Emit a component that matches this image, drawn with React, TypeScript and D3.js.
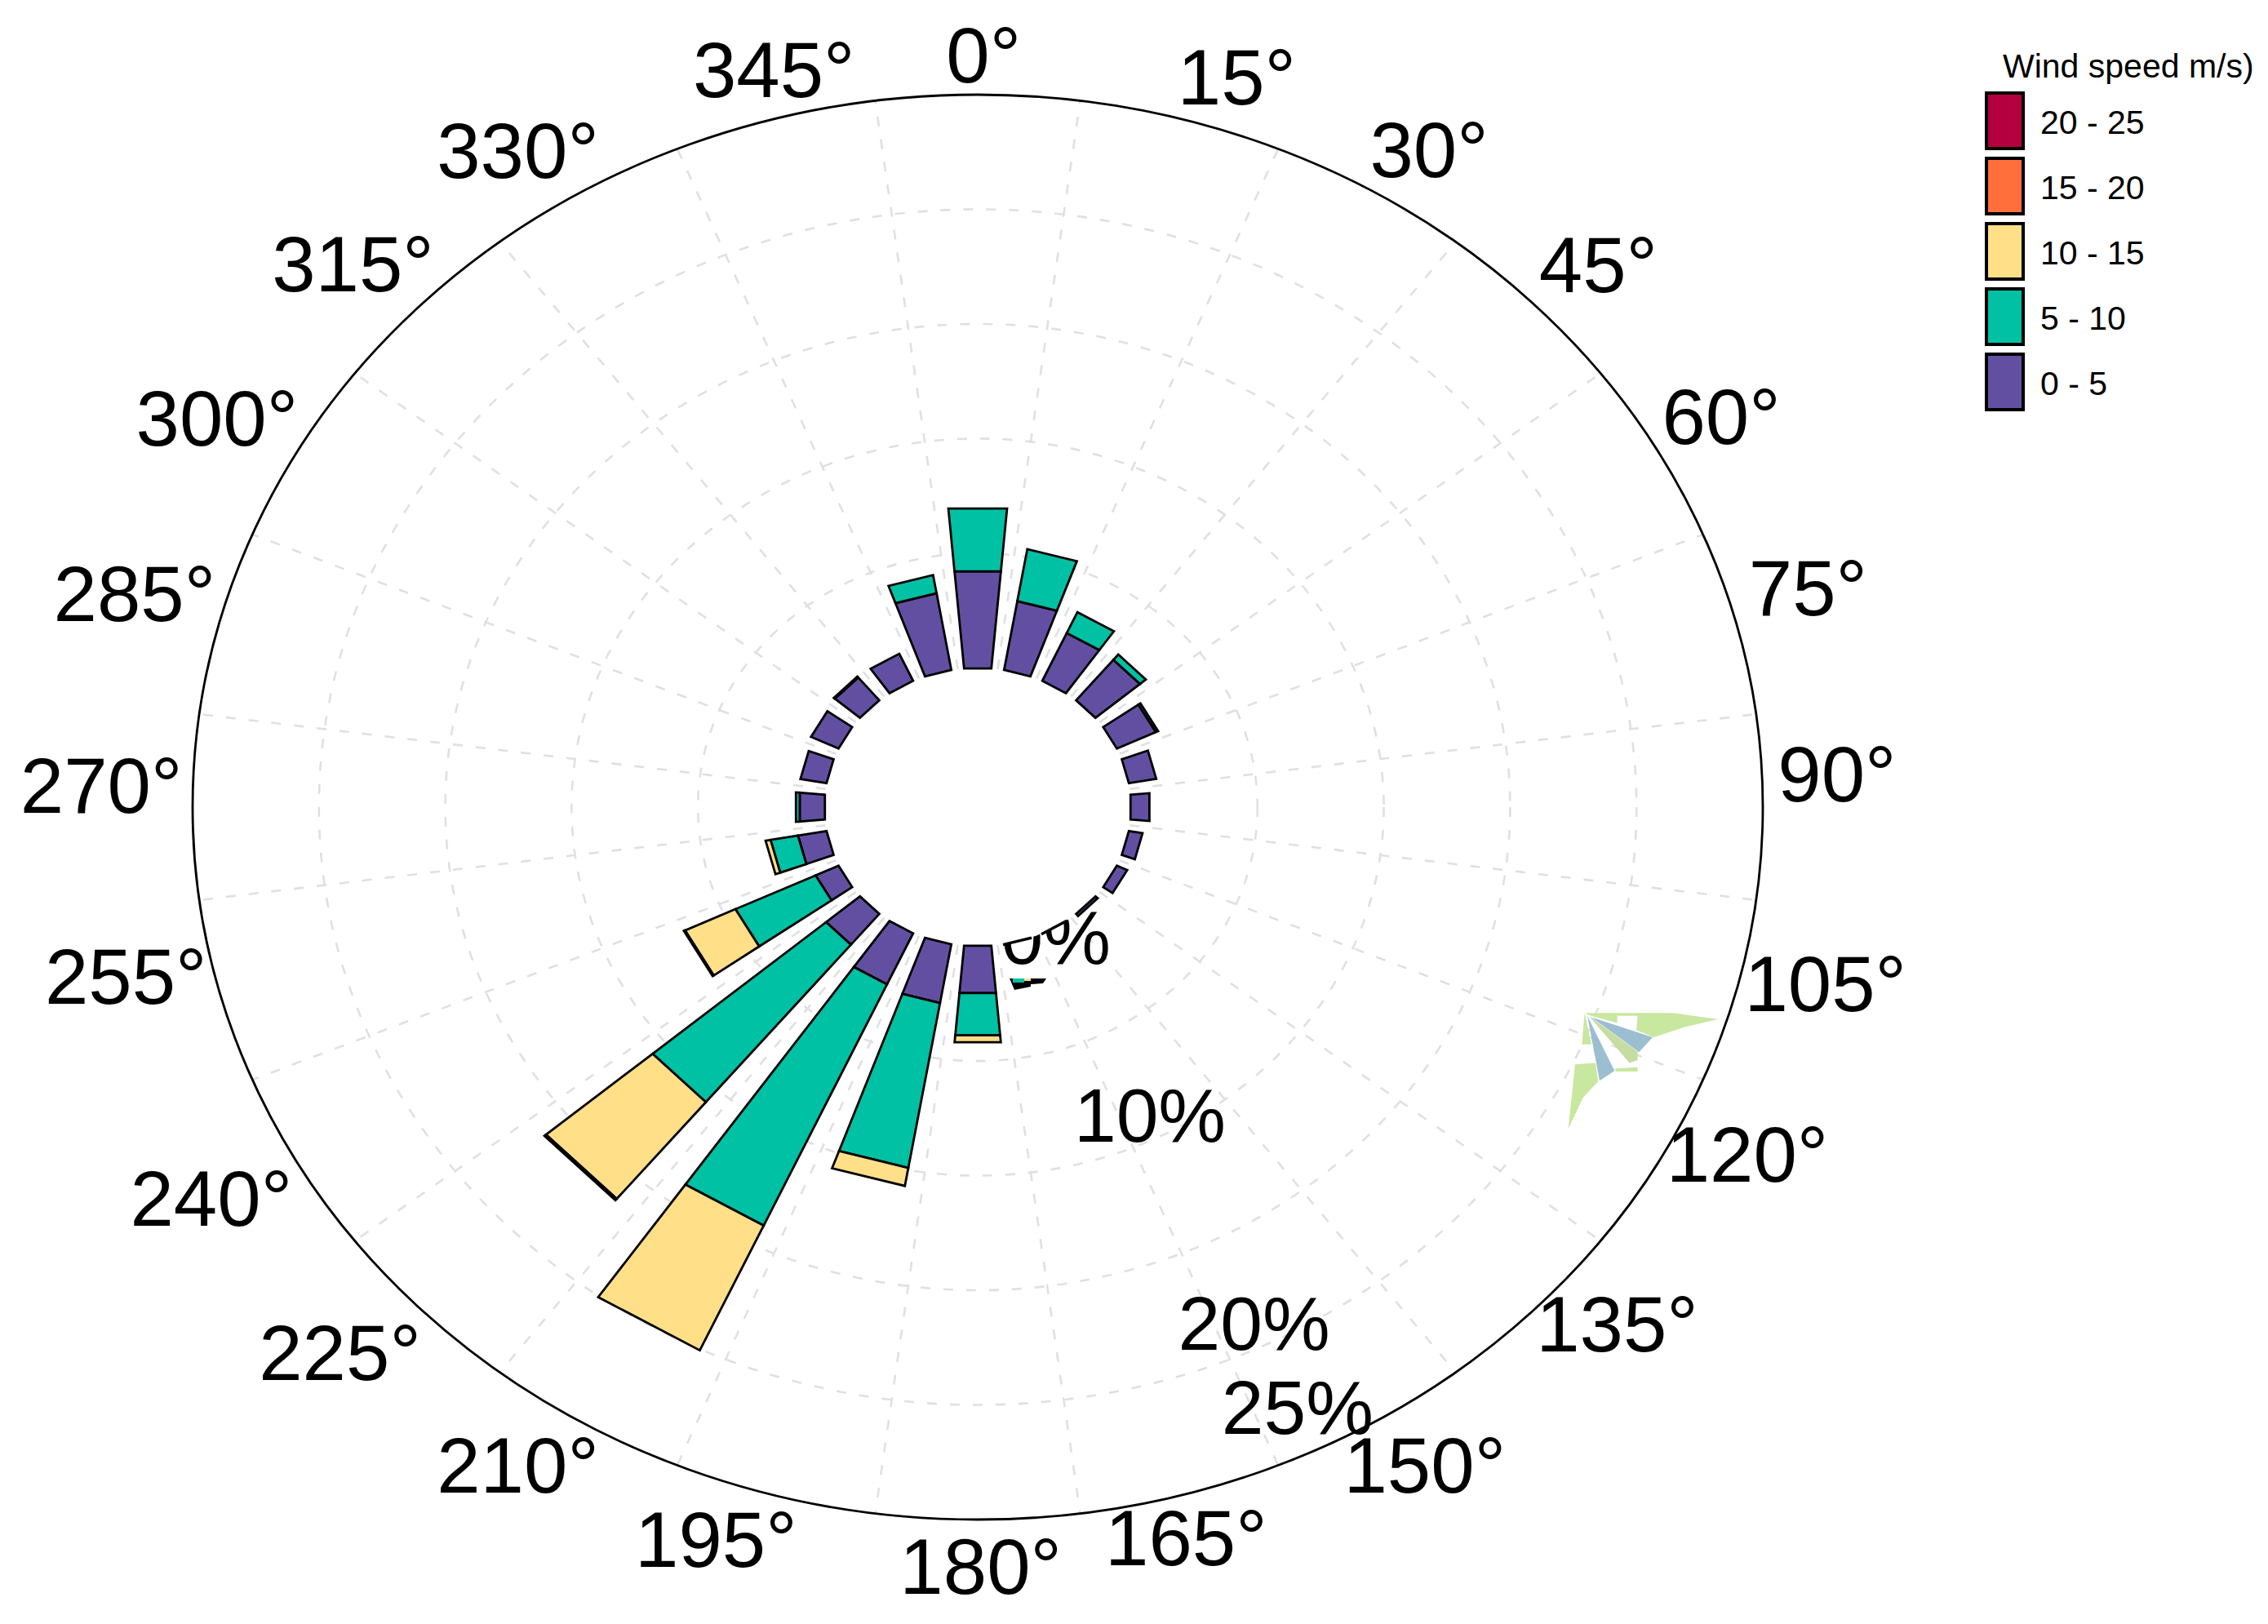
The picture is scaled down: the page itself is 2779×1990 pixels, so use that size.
import React from "react";
import * as d3 from "d3";

const directions = d3.range(0, 360, 15);
const speedBins = ["0 - 5", "5 - 10", "10 - 15", "15 - 20", "20 - 25"];
const binColors = ["#634FA2", "#00C1A3", "#FFDF88", "#FF6F3C", "#B5003F"];
const s0to5 = [4.25,3.05,2.3,2.3,1.7,1.1,0.75,0.55,0.45,0.12,0.02,0.02,2.07,2.6,2.45,1.75,1.0,1.15,1.0,1.05,1.2,1.3,1.3,3.4];
const s5to10 = [2.75,2.3,1.0,0.3,0.1,0,0,0,0,0,0,0,1.85,7.3,11.6,8.95,3.5,1.1,0.15,0,0,0.05,0,0.8];
const s10to15 = [0,0,0,0,0,0,0,0,0,0,0,0,0.3,0.8,6.0,5.5,2.2,0.2,0,0,0,0,0,0];
const s15to20 = [0,0,0,0,0,0,0,0,0,0,0,0,0,0,0,0.08,0.05,0,0,0,0,0,0,0];
const s20to25 = directions.map(() => 0);
const series = [s0to5, s5to10, s10to15, s15to20, s20to25];
const radialTicks = [5, 10, 15, 20, 25];

// label centres, in the reference's shrunk 1568-wide coordinates
const k = 2779 / 1568;
const angleLabelAt: [number, number][] = [
  [680,40],[855,55],[988,105],[1105,185],[1190,290],[1250,408],[1270,537],[1262,682],
  [1208,800],[1118,917],[985,1015],[820,1065],[678,1085],[495,1066],[358,1015],[235,937],
  [146,830],[87,677],[70,545],[93,412],[150,291],[244,184],[358,106],[535,50],
];
const pctLabels: [string, number, number][] = [["0%",730,650],["10%",795,773],["20%",867,917],["25%",897,975]];

const cx = 1198, cy = 989, rx = 962, ry = 873, innerR = 188;
const yScale = ry / rx;
const r = d3.scaleLinear().domain([0, 25]).range([innerR, rx]);
const barHalf = (5.1 * Math.PI) / 180;
const rad = (d: number) => (d * Math.PI) / 180;
const wedge = d3.lineRadial<[number, number]>().angle((d) => d[0]).radius((d) => d[1]).curve(d3.curveLinearClosed);
const font = "'Liberation Sans', Arial, sans-serif";

export default function App() {
  const bars: React.ReactNode[] = [];
  directions.forEach((dir, i) => {
    let acc = 0;
    series.forEach((s, b) => {
      const v = s[i];
      if (v <= 0) return;
      const a0 = rad(dir) - barHalf, a1 = rad(dir) + barHalf;
      const d = wedge([[a0, r(acc)], [a1, r(acc)], [a1, r(acc + v)], [a0, r(acc + v)]]) as string;
      acc += v;
      bars.push(<path key={`${dir}-${b}`} d={d} fill={binColors[b]} stroke="#000" strokeWidth={2.8} vectorEffect="non-scaling-stroke" />);
    });
  });
  return (
    <svg width={2779} height={1990} style={{ position: "absolute", left: 0, top: 0, display: "block", background: "#fff" }} fontFamily={font}>
      <g transform={`translate(${cx},${cy}) scale(1,${yScale})`}>
        {radialTicks.slice(0, -1).map((t) => (
          <circle key={t} r={r(t)} fill="none" stroke="#e0e0e0" strokeWidth={2.6} strokeDasharray="12 16" vectorEffect="non-scaling-stroke" />
        ))}
        {directions.map((d) => {
          const a = rad(d + 7.5);
          return <line key={d} x1={Math.sin(a) * innerR} y1={-Math.cos(a) * innerR} x2={Math.sin(a) * rx} y2={-Math.cos(a) * rx}
            stroke="#e0e0e0" strokeWidth={2.6} strokeDasharray="12 16" vectorEffect="non-scaling-stroke" />;
        })}
      </g>
      {pctLabels.map(([t, x, y]) => (
        <text key={t} x={x * k} y={y * k - 3} fontSize={93} textAnchor="middle" dominantBaseline="central" fill="#000">{t}</text>
      ))}
      <g transform={`translate(${cx},${cy}) scale(1,${yScale})`}>
        <circle r={innerR} fill="#fff" />
        {bars}
        <circle r={rx} fill="none" stroke="#000" strokeWidth={2.8} vectorEffect="non-scaling-stroke" />
      </g>
      <path d="M1237,1199 L1282,1199 L1278,1205 L1263,1206 L1263,1209 L1243,1213 Z" fill="#000" />
      <rect x={1241} y={1199} width={14} height={5} fill="#00C1A3" />
      <rect x={1255} y={1199} width={8} height={3} fill="#FFDF88" />
      <g transform="translate(1850,1180) scale(0.3333,0.35)" opacity={0.95}>
        <path d="M275,175 L600,175 L765,197 L640,225 L530,260 L465,235 L470,185 L395,185 L395,210 L300,185 Z" fill="#c6e69a" />
        <path d="M275,175 L265,285 L300,285 Z" fill="#c6e69a" />
        <path d="M240,355 L315,350 L325,415 L270,470 L215,580 Z" fill="#c6e69a" />
        <path d="M290,185 L440,350 L470,340 L470,310 Z" fill="#c3dc9e" />
        <path d="M385,370 L470,365 L470,380 L390,380 Z" fill="#c6e69a" />
        <path d="M285,185 L385,378 L330,412 Z" fill="#97bbcf" />
        <path d="M300,190 L525,260 L475,312 Z" fill="#97bbcf" />
      </g>
      {directions.map((d, i) => (
        <text key={d} x={angleLabelAt[i][0] * k} y={angleLabelAt[i][1] * k - 3} fontSize={96} textAnchor="middle" dominantBaseline="central" fill="#000">{`${d}°`}</text>
      ))}
      <text x={2454} y={95} fontSize={41} fill="#000">Wind speed m/s)</text>
      {speedBins.slice().reverse().map((label, i) => (
        <g key={label}>
          <rect x={2434} y={114} width={45} height={68} transform={`translate(0,${i * 80})`} fill={binColors[4 - i]} stroke="#000" strokeWidth={4} />
          <text x={2500} y={150 + i * 80} fontSize={41} dominantBaseline="central" fill="#000">{label}</text>
        </g>
      ))}
    </svg>
  );
}
